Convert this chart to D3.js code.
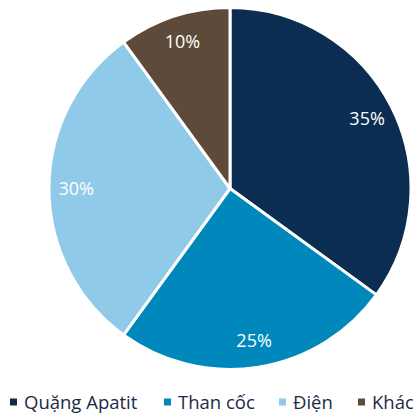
<!DOCTYPE html>
<html>
<head>
<meta charset="utf-8">
<script src="https://cdn.jsdelivr.net/npm/d3@7"></script>
<style>
  body { margin: 0; background: #fff; }
  svg { display: block; font-family: "Open Sans", sans-serif; }
</style>
</head>
<body>
<svg id="chart" width="413" height="414"></svg>
<script>
// Chart data
const categories = ["Quặng Apatit", "Than cốc", "Điện", "Khác"];
const values = [35, 25, 30, 10];
const colors = ["#0c2d52", "#0088bd", "#8fcae9", "#5e4a38"];

const width = 413, height = 414;
const cx = 230, cy = 188.5, radius = 181;

const svg = d3.select("#chart");

const pie = d3.pie().sort(null).value(d => d.value);
const arcs = pie(categories.map((c, i) => ({ name: c, value: values[i], color: colors[i] })));

const arc = d3.arc().innerRadius(0).outerRadius(radius);
const labelArc = d3.arc().innerRadius(radius * 0.85).outerRadius(radius * 0.85);

const g = svg.append("g").attr("transform", `translate(${cx},${cy})`);

g.selectAll("path")
  .data(arcs)
  .enter().append("path")
  .attr("d", arc)
  .attr("fill", d => d.data.color)
  .attr("stroke", "#fff")
  .attr("stroke-width", 3)
  .attr("stroke-linejoin", "round");

g.selectAll("text")
  .data(arcs)
  .enter().append("text")
  .attr("transform", d => `translate(${labelArc.centroid(d)})`)
  .attr("text-anchor", "middle")
  .attr("dy", "0.35em")
  .attr("fill", "#fff")
  .attr("font-size", 18)
  .text(d => d.data.value + "%");

// Legend
const legend = svg.append("g").attr("transform", "translate(0,402)");
const legendX = [10, 164, 279, 358];
const item = legend.selectAll("g")
  .data(categories)
  .enter().append("g")
  .attr("transform", (d, i) => `translate(${legendX[i]},0)`);

item.append("rect")
  .attr("x", 0).attr("y", -3.5)
  .attr("width", 7).attr("height", 7)
  .attr("fill", (d, i) => colors[i]);

item.append("text")
  .attr("x", 14)
  .attr("y", 6.5)
  .attr("fill", "#1b2a44")
  .attr("font-size", 18.5)
  .text(d => d);
</script>
</body>
</html>
